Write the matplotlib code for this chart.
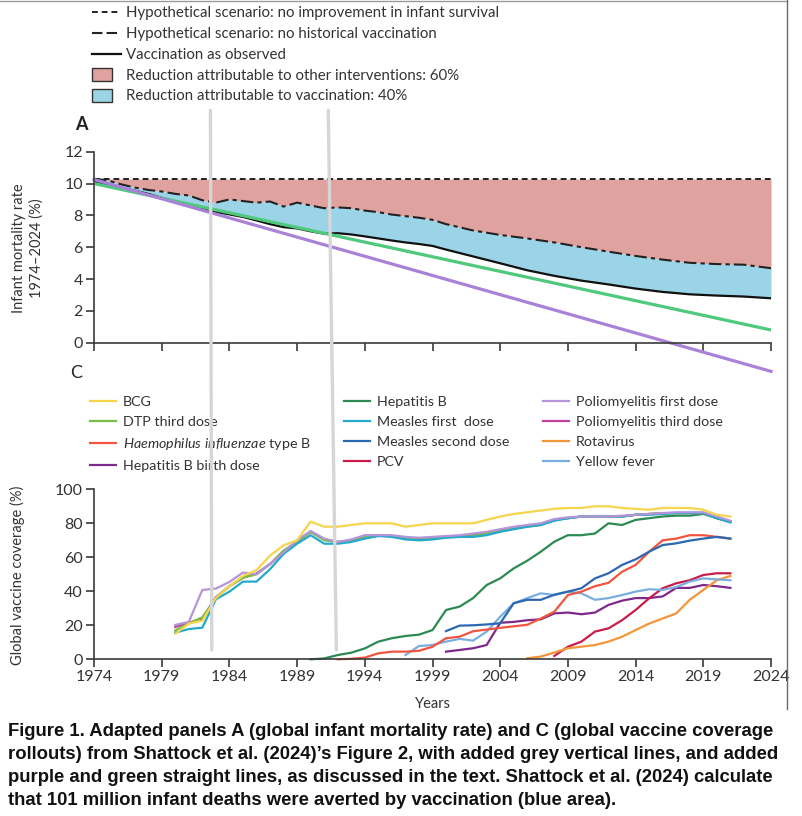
import numpy as np
import matplotlib
matplotlib.use("Agg")
import matplotlib.pyplot as plt
from matplotlib.lines import Line2D
from matplotlib.patches import Patch, Rectangle, ConnectionPatch
from matplotlib.legend_handler import HandlerPatch

plt.rcParams['font.family'] = ['Lato', 'DejaVu Sans']
plt.rcParams['mathtext.fontset'] = 'custom'
plt.rcParams['mathtext.it'] = 'Lato:italic'
plt.rcParams['mathtext.rm'] = 'Lato'

## panel A data (infant mortality rate, %)
years_a = [1974, 1975, 1976, 1977, 1978, 1979, 1980, 1981, 1982, 1983, 1984, 1985,
           1986, 1987, 1988, 1989, 1990, 1991, 1992, 1993, 1994, 1995, 1996, 1997,
           1998, 1999, 2000, 2002, 2004, 2006, 2008, 2010, 2012, 2014, 2016, 2018,
           2020, 2022, 2024]
no_improvement = [10.28] * len(years_a)
no_vaccination = [10.3, 10.2, 9.95, 9.75, 9.6, 9.5, 9.35, 9.25, 8.95, 8.8, 9.0, 8.9,
                  8.8, 8.87, 8.55, 8.8, 8.62, 8.45, 8.5, 8.45, 8.3, 8.2, 8.05, 7.95,
                  7.85, 7.72, 7.45, 7.05, 6.77, 6.55, 6.3, 6.0, 5.72, 5.45, 5.22, 5.02,
                  4.94, 4.9, 4.68]
observed = [10.13, 9.95, 9.75, 9.55, 9.35, 9.1, 8.88, 8.65, 8.42, 8.22, 8.06, 7.9,
            7.68, 7.45, 7.26, 7.18, 7.0, 6.85, 6.88, 6.8, 6.68, 6.55, 6.42, 6.3,
            6.2, 6.08, 5.85, 5.42, 4.99, 4.55, 4.2, 3.9, 3.66, 3.4, 3.19, 3.04,
            2.96, 2.9, 2.79]
# added straight lines
green_line = ([1974, 2024], [10.0, 0.8])
purple_line = ([1974, 2024], [10.25, -1.8])

## panel C data (global vaccine coverage, %)
yrs_early = list(range(1980, 2022))
bcg = [15, 21, 22.7, 36, 43, 49, 52.5, 61, 67, 70, 81, 78, 78, 79, 80, 80, 80, 78, 79, 80,
       80, 80, 80, 82, 84, 85.5, 86.5, 87.5, 88.5, 89, 89, 90, 90, 89, 88.5, 88, 89, 89,
       89, 88, 85, 84]
dtp3 = [17, 21, 24.7, 36, 43, 48, 50, 56, 64, 69, 75, 70, 69, 70, 72, 73, 72.5, 71, 70.5,
        71, 72, 72, 72.5, 74, 75.5, 77, 78, 79, 82, 83, 84, 84, 84, 84, 85, 85.5, 86, 86,
        86, 86, 83, 81]
measles1 = [15.7, 17.8, 18.6, 35.3, 39.8, 45.7, 45.7, 53, 62, 68, 73, 68, 68, 69, 71, 72.5,
            72, 70.5, 70, 70.5, 71.5, 72, 72, 73, 75, 76.5, 78, 79, 81.5, 83, 84, 84, 84,
            84, 85, 85, 85.5, 86, 86, 86, 83, 80.5]
polio1 = [20.2, 22, 40.8, 41.6, 45.5, 51, 50, 56, 63, 70, 75.5, 71, 69, 70.5, 73, 73, 73,
          72, 71.5, 72, 72.5, 73, 74, 75, 76.5, 78, 79, 80, 82.5, 83.5, 84, 84, 84, 84.5,
          85, 85.5, 86, 86.5, 86.5, 86.5, 84, 81.5]
polio3 = [19, 21.5, 24, 36.5, 43, 48, 50.5, 56, 63.5, 69.5, 75, 70.5, 69, 70, 72.5, 73,
          72.5, 71.5, 71, 71.5, 72, 72.5, 73, 74.5, 76, 77.5, 78.5, 79.5, 82, 83, 84, 84,
          84, 84, 85, 85.5, 86, 86, 86, 86, 83, 81]
yrs_hepb = list(range(1990, 2022))
hepb = [0, 0.5, 2.5, 3.9, 6.4, 10.4, 12.4, 13.7, 14.5, 17.2, 29, 31, 36, 43.7, 47.6, 53.5,
        58, 63.3, 69.2, 73, 73, 74, 80, 79, 82, 83, 84, 84.5, 84.5, 85.5, 83, 81]
yrs_hib = list(range(1992, 2022))
hib = [0, 0.3, 1, 3.5, 4.5, 4.5, 5, 7.4, 12.4, 13.3, 16.5, 17.5, 18.5, 19.4, 20.3, 24, 28,
       37.8, 39.8, 43, 45, 51.5, 55.5, 63.3, 70, 71, 73, 73, 72, 71]
yrs_yf = list(range(1997, 2022))
yellow_fever = [2.5, 7.8, 8.4, 10.4, 12, 11, 16.3, 25, 33, 36, 38.8, 37.8, 39.8, 38.8, 35,
                36, 37.8, 39.8, 41.2, 40.8, 42.5, 45.7, 47.6, 47, 46.5]
yrs_2000 = list(range(2000, 2022))
measles2 = [16.6, 19.8, 20, 20.5, 21.2, 33, 35, 35, 38, 39.8, 41.8, 47.6, 50.6, 55.5, 58.8,
            63.3, 67.2, 68.2, 69.8, 71, 72, 71]
hepb_birth = [4.5, 5.5, 6.5, 8.4, 21.5, 22, 23, 23.5, 27, 27.5, 26.5, 27.5, 32, 34.5, 36,
              36, 37, 42, 42, 43.7, 43, 42]
yrs_rota = list(range(2006, 2022))
rotavirus = [0.6, 1.6, 4, 6.5, 7.4, 8.4, 10.4, 13.3, 17.2, 21, 24, 27, 35, 40.8, 46.5, 49]
yrs_pcv = list(range(2008, 2022))
pcv = [2, 7.4, 10.4, 16.3, 18.2, 23, 29, 35.9, 41.8, 44.7, 46.5, 49.6, 50.6, 50.6]

# added grey vertical lines: (year at top, year at bottom)
grey_lines = [(1982.6, 1982.7), (1991.3, 1991.9)]

xticks = list(range(1974, 2025, 5))

fig = plt.figure(figsize=(8.02, 8.16), dpi=100)
W, H = 802, 816
axA = fig.add_axes([94 / W, 1 - 342.7 / H, 677 / W, 191 / H])
axC = fig.add_axes([94 / W, 1 - 659.3 / H, 677 / W, 170 / H])

spine_col = '#3a3a3a'
for ax in (axA, axC):
    for s in ('top', 'right'):
        ax.spines[s].set_visible(False)
    for s in ('left', 'bottom'):
        ax.spines[s].set_color(spine_col)
        ax.spines[s].set_linewidth(1.2)
    ax.tick_params(direction='out', length=6, width=1.2, color=spine_col,
                   labelsize=11.5, labelcolor='#333333', pad=2)
    ax.set_xlim(1974, 2024)
    ax.set_xticks(xticks)
    ax.patch.set_alpha(0)

## panel A
red_fill = '#e0a29e'
blue_fill = '#9bd4e7'
axA.fill_between(years_a, no_vaccination, no_improvement, color=red_fill, lw=0)
axA.fill_between(years_a, observed, no_vaccination, color=blue_fill, lw=0)
axA.plot(years_a, no_improvement, color='#222222', lw=1.4, ls=(0, (3, 2)))
axA.plot(years_a, no_vaccination, color='#222222', lw=1.5, ls=(0, (6, 2, 2, 2)))
axA.plot(years_a, observed, color='#111111', lw=1.6)
axA.plot(*green_line, color='#4fc97b', lw=2.3)
axA.plot(*purple_line, color='#a981d6', lw=2.3, clip_on=False)
axA.set_ylim(0, 12)
axA.set_yticks(range(0, 13, 2))
axA.set_xticklabels([])

## panel C
series_c = [
    ("BCG", yrs_early, bcg, '#f5d54c'),
    ("DTP third dose", yrs_early, dtp3, '#78bd45'),
    (r"$\it{Haemophilus\ influenzae}$ type B", yrs_hib, hib, '#f1553f'),
    ("Hepatitis B birth dose", yrs_2000, hepb_birth, '#7d2a8c'),
    ("Hepatitis B", yrs_hepb, hepb, '#2c8a52'),
    ("Measles first  dose", yrs_early, measles1, '#22a9cc'),
    ("Measles second dose", yrs_2000, measles2, '#2b68b1'),
    ("PCV", yrs_pcv, pcv, '#c81d48'),
    ("Poliomyelitis first dose", yrs_early, polio1, '#b495d8'),
    ("Poliomyelitis third dose", yrs_early, polio3, '#c4409c'),
    ("Rotavirus", yrs_rota, rotavirus, '#f4953a'),
    ("Yellow fever", yrs_yf, yellow_fever, '#7aaedf'),
]
draw_order = [3, 7, 10, 11, 2, 6, 4, 9, 1, 5, 8, 0]
lines_c = {}
for i in draw_order:
    lab, xs, ys, col = series_c[i]
    ln, = axC.plot(xs, ys, color=col, lw=1.6, label=lab, clip_on=False)
    lines_c[i] = ln
axC.set_ylim(0, 100)
axC.set_yticks(range(0, 101, 20))
axC.set_xticklabels([str(x) for x in xticks])

leg_c = axC.legend(handles=[lines_c[i] for i in range(12)], ncol=3, frameon=False,
                   loc='upper left', bbox_to_anchor=(90 / W, 1 - 396 / H),
                   bbox_transform=fig.transFigure, fontsize=10.3, borderpad=0,
                   borderaxespad=0, handlelength=1.8, handletextpad=0.5,
                   columnspacing=2.35, labelspacing=0.55)
for t in leg_c.get_texts():
    t.set_color('#333333')

## top legend
def narrow_patch(legend, orig_handle, xdescent, ydescent, width, height, fontsize):
    return Rectangle((-xdescent, -ydescent - 1), width * 0.7, height + 2)

top_handles = [
    Line2D([], [], color='#222222', lw=1.4, ls=(0, (3, 2))),
    Line2D([], [], color='#222222', lw=1.5, ls=(0, (5, 2))),
    Line2D([], [], color='#111111', lw=1.6),
    Patch(facecolor=red_fill, edgecolor='#333333', lw=1),
    Patch(facecolor=blue_fill, edgecolor='#333333', lw=1),
]
top_labels = [
    "Hypothetical scenario: no improvement in infant survival",
    "Hypothetical scenario: no historical vaccination",
    "Vaccination as observed",
    "Reduction attributable to other interventions: 60%",
    "Reduction attributable to vaccination: 40%",
]
leg_t = fig.legend(top_handles, top_labels, loc='upper left',
                   bbox_to_anchor=(92 / W, 1 - 6.5 / H), frameon=False, fontsize=10.8,
                   borderpad=0, borderaxespad=0, handlelength=1.9,
                   handletextpad=0.4, labelspacing=0.45,
                   handler_map={Patch: HandlerPatch(patch_func=narrow_patch)})
for t in leg_t.get_texts():
    t.set_color('#333333')

## labels
fig.text(75 / W, 1 - 125 / H, "A", fontsize=13, fontweight='bold', color='#222222',
         ha='left', va='center')
fig.text(70 / W, 1 - 373 / H, "C", fontsize=13, color='#222222', ha='left', va='center')
fig.text(28 / W, 1 - 248 / H, "Infant mortality rate\n1974\u20132024 (%)", rotation=90,
         ha='center', va='center', fontsize=10.5, color='#333333', linespacing=1.25)
fig.text(17 / W, 1 - 575 / H, "Global vaccine coverage (%)", rotation=90,
         ha='center', va='center', fontsize=10.5, color='#333333')
fig.text(433 / W, 1 - 704 / H, "Years", ha='center', va='center', fontsize=10.5,
         color='#333333')

## grey vertical lines spanning both panels
for top_yr, bot_yr in grey_lines:
    cp = ConnectionPatch(xyA=(top_yr, 14.6), coordsA=axA.transData,
                         xyB=(bot_yr, 5.5), coordsB=axC.transData,
                         color='#d6d6d6', lw=2.4, zorder=10)
    fig.add_artist(cp)

## screenshot border
fig.add_artist(Line2D([0, 787 / W], [1 - 0.8 / H, 1 - 0.8 / H], color='#9a9a9a', lw=1,
                      transform=fig.transFigure))
fig.add_artist(Line2D([787 / W, 787 / W], [1, 1 - 709 / H], color='#6a6a6a', lw=1,
                      transform=fig.transFigure))

## caption
caption = [
    "Figure 1. Adapted panels A (global infant mortality rate) and C (global vaccine coverage",
    "rollouts) from Shattock et al. (2024)\u2019s Figure 2, with added grey vertical lines, and added",
    "purple and green straight lines, as discussed in the text. Shattock et al. (2024) calculate",
    "that 101 million infant deaths were averted by vaccination (blue area).",
]
for k, line in enumerate(caption):
    fig.text(8 / W, 1 - (731 + 23.2 * k) / H, line, ha='left', va='center', fontsize=13.3,
             fontweight='bold', color='#111111',
             family=['Liberation Sans', 'DejaVu Sans'])

fig.savefig("out.png", dpi=100)
